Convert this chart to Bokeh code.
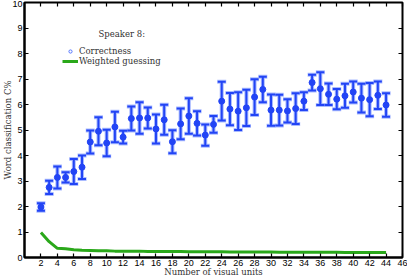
from bokeh.plotting import figure
from bokeh.models import (ColumnDataSource, Whisker, TeeHead, LinearAxis, FixedTicker,
                          Range1d, Legend, LegendItem, Label, CustomLabelingPolicy)
from bokeh.embed import file_html
from bokeh.resources import INLINE

units = list(range(2, 45))
correctness = [1.98, 2.75, 3.14, 3.14, 3.37, 3.54, 4.53, 4.95, 4.49, 5.12, 4.72, 5.45, 5.47, 5.47,
               5.04, 5.40, 4.54, 5.24, 5.55, 5.26, 4.80, 5.22, 6.13, 5.82, 5.74, 5.87, 6.29, 6.59, 5.78,
               5.78, 5.75, 5.84, 6.13, 6.86, 6.62, 6.40, 6.21, 6.34, 6.49, 6.25, 6.19, 6.36, 5.98]
error = [0.15, 0.26, 0.43, 0.20, 0.49, 0.46, 0.45, 0.55, 0.52, 0.60, 0.25, 0.47, 0.62, 0.41,
         0.57, 0.59, 0.45, 0.60, 0.70, 0.48, 0.42, 0.33, 0.76, 0.63, 0.74, 0.71, 0.70, 0.50, 0.61,
         0.60, 0.46, 0.60, 0.35, 0.31, 0.64, 0.42, 0.40, 0.47, 0.41, 0.56, 0.65, 0.54, 0.46]
guessing = [0.98, 0.62, 0.36, 0.34, 0.30, 0.28, 0.27, 0.26, 0.26, 0.25,
            0.25, 0.25, 0.25, 0.24, 0.24, 0.24, 0.24, 0.24, 0.23, 0.23,
            0.23, 0.23, 0.23, 0.22, 0.22, 0.22, 0.22, 0.22, 0.22, 0.21,
            0.21, 0.21, 0.21, 0.21, 0.21, 0.21, 0.21, 0.20, 0.20, 0.20,
            0.20, 0.20, 0.20]
x_ticks = list(range(2, 47, 2))
y_ticks = list(range(0, 11))

BLUE = "#2244f5"
HALO = "#aabbff"
GREEN = "#2aa81a"
SERIF = "DejaVu Serif"
SANS = "Liberation Sans"
TXT = "#333333"

src = ColumnDataSource(dict(
    x=units, y=correctness,
    upper=[c + e for c, e in zip(correctness, error)],
    lower=[c - e for c, e in zip(correctness, error)],
))

p = figure(width=407, height=279, output_backend="svg", toolbar_location=None,
           x_range=Range1d(0, 46), y_range=Range1d(0, 10),
           min_border_left=0, min_border_right=5, min_border_top=2, min_border_bottom=0)
p.grid.visible = False
p.background_fill_color = "white"
p.border_fill_color = "white"
p.outline_line_color = "black"
p.outline_line_width = 2

for ax in (p.xaxis[0], p.yaxis[0]):
    ax.major_tick_in = 4
    ax.major_tick_out = 0
    ax.minor_tick_line_color = None
    ax.axis_line_width = 2
    ax.major_tick_line_width = 1.2
    ax.major_label_text_font = SANS
    ax.major_label_text_font_size = "9px"
    ax.major_label_text_color = "black"
    ax.axis_label_text_font = SERIF
    ax.axis_label_text_font_size = "8.5px"
    ax.axis_label_text_font_style = "normal"
    ax.axis_label_text_color = TXT
    ax.major_label_standoff = 2

p.xaxis[0].axis_label_standoff = -2
p.yaxis[0].axis_label_standoff = -4
p.xaxis[0].ticker = FixedTicker(ticks=x_ticks)
p.yaxis[0].ticker = FixedTicker(ticks=y_ticks)
p.xaxis[0].axis_label = "Number of visual units"
p.yaxis[0].axis_label = "Word classification C%"

top = LinearAxis(ticker=FixedTicker(ticks=x_ticks), major_tick_in=4, major_tick_out=0,
                 major_label_text_font_size="0px", major_label_standoff=0,
                 major_label_policy=CustomLabelingPolicy(code="for (const i of indices) { indices.unset(i) } return indices"),
                 minor_tick_line_color=None, axis_line_color=None, major_tick_line_width=1.2)
right = LinearAxis(ticker=FixedTicker(ticks=y_ticks), major_tick_in=4, major_tick_out=0,
                   major_label_text_font_size="0px", major_label_standoff=0,
                   major_label_policy=CustomLabelingPolicy(code="for (const i of indices) { indices.unset(i) } return indices"),
                   minor_tick_line_color=None, axis_line_color=None, major_tick_line_width=1.2)
p.add_layout(top, "above")
p.add_layout(right, "right")

# guessing line
g = p.line(units, guessing, line_color=GREEN, line_width=3)

# error bars: halo then main
halo = Whisker(base="x", upper="upper", lower="lower", source=src, line_color=HALO, line_width=4,
               upper_head=TeeHead(size=9, line_color=HALO, line_width=4),
               lower_head=TeeHead(size=9, line_color=HALO, line_width=4))
main = Whisker(base="x", upper="upper", lower="lower", source=src, line_color=BLUE, line_width=2,
               upper_head=TeeHead(size=8, line_color=BLUE, line_width=2),
               lower_head=TeeHead(size=8, line_color=BLUE, line_width=2))
p.add_layout(halo)
p.add_layout(main)
p.scatter("x", "y", source=src, size=6, fill_color=BLUE, line_color=BLUE)

# legend renderer for the open-circle key (not drawn in the plot)
dummy = p.scatter(x=[float("nan")], y=[float("nan")], size=5, marker="circle",
                  fill_color=None, line_color="#5577ff", line_width=1)

legend = Legend(items=[LegendItem(label="Correctness", renderers=[dummy]),
                       LegendItem(label="Weighted guessing", renderers=[g])],
                location=(38, 191), border_line_color=None, background_fill_alpha=0,
                label_text_font=SERIF, label_text_font_size="8.5px", label_text_color=TXT,
                glyph_width=16, glyph_height=8, label_height=8, spacing=-4, padding=0,
                label_standoff=1, margin=0)
p.add_layout(legend)

p.add_layout(Label(x=9.0, y=8.55, text="Speaker 8:", text_font=SERIF, text_font_size="8.5px",
                   text_color=TXT))

open("out.html", "w").write(file_html(p, INLINE))
